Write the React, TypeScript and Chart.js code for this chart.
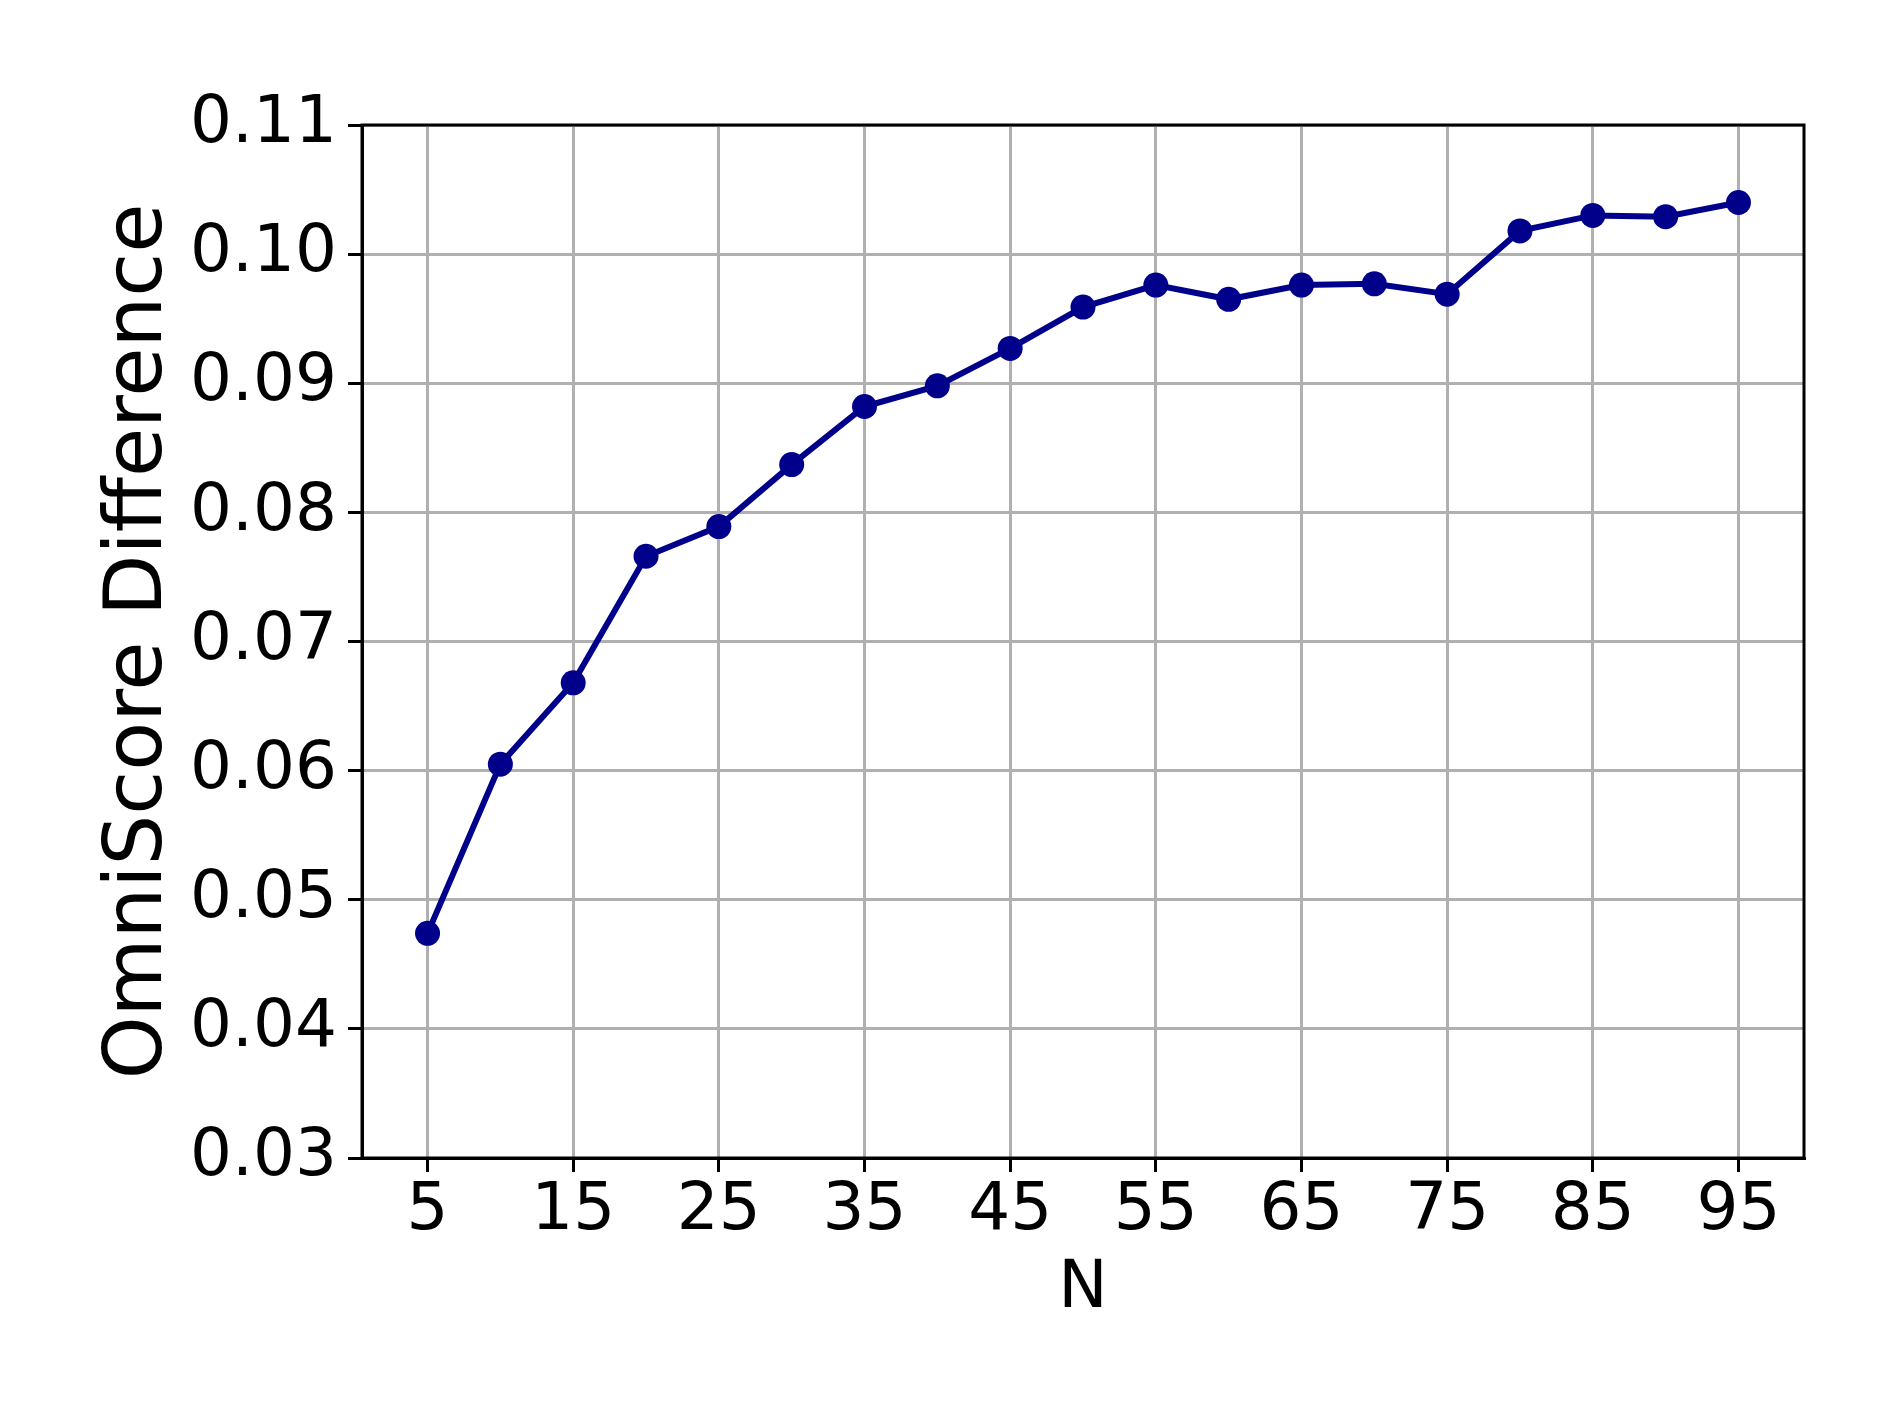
import React, { useEffect, useRef } from "react";
import { Chart, registerables } from "chart.js";

Chart.register(...registerables);

const nValues = [5, 10, 15, 20, 25, 30, 35, 40, 45, 50, 55, 60, 65, 70, 75, 80, 85, 90, 95];
const scoreDiff = [
  0.0474, 0.0605, 0.0668, 0.0766, 0.0789, 0.0837, 0.0882, 0.0898, 0.0927, 0.0959,
  0.0976, 0.0965, 0.0976, 0.0977, 0.0969, 0.1018, 0.1030, 0.1029, 0.1040,
];
const xTicks = [5, 15, 25, 35, 45, 55, 65, 75, 85, 95];
const yTicks = [0.03, 0.04, 0.05, 0.06, 0.07, 0.08, 0.09, 0.10, 0.11];
const xLabel = "N";
const yLabel = "OmniScore Difference";

const W = 1903;
const H = 1427;
const FONT = "'DejaVu Sans', sans-serif";

const frame = {
  id: "frame",
  afterDraw(chart: any) {
    const { ctx, chartArea } = chart;
    ctx.save();
    ctx.strokeStyle = "#000";
    ctx.lineWidth = 3;
    ctx.strokeRect(chartArea.left, chartArea.top, chartArea.right - chartArea.left, chartArea.bottom - chartArea.top);
    ctx.restore();
  },
};

export default function App() {
  const ref = useRef<HTMLCanvasElement>(null);
  useEffect(() => {
    const canvas = ref.current!;
    const chart = new Chart(canvas, {
      type: "line",
      data: {
        datasets: [
          {
            data: nValues.map((n, i) => ({ x: n, y: scoreDiff[i] })),
            borderColor: "#00008b",
            backgroundColor: "#00008b",
            borderWidth: 6,
            pointRadius: 12.5,
            pointBorderWidth: 0,
            pointBackgroundColor: "#00008b",
            tension: 0,
          },
        ],
      },
      plugins: [frame],
      options: {
        responsive: false,
        animation: false,
        events: [],
        layout: { padding: { left: 0, top: 125, right: 99, bottom: 0 } },
        plugins: { legend: { display: false }, tooltip: { enabled: false } },
        scales: {
          x: {
            type: "linear",
            min: 0.5,
            max: 99.5,
            afterBuildTicks: (s: any) => {
              s.ticks = xTicks.map((v) => ({ value: v }));
            },
            afterFit: (s: any) => {
              s.height = H - 1158;
            },
            grid: { color: "#b0b0b0", lineWidth: 3, tickColor: "#000", tickLength: 14, tickWidth: 3 },
            border: { color: "#000", width: 3 },
            ticks: {
              autoSkip: false,
              maxRotation: 0,
              color: "#000",
              padding: 7,
              font: { family: FONT, size: 66, lineHeight: 1 },
              callback: (v: any) => String(v),
            },
            title: {
              display: true,
              text: xLabel,
              color: "#000",
              font: { family: FONT, size: 66, lineHeight: 1 },
              padding: { top: 0, bottom: 104 },
            },
          },
          y: {
            type: "linear",
            min: 0.03,
            max: 0.11,
            afterBuildTicks: (s: any) => {
              s.ticks = yTicks.map((v) => ({ value: v }));
            },
            afterFit: (s: any) => {
              s.width = 362;
            },
            grid: { color: "#b0b0b0", lineWidth: 3, tickColor: "#000", tickLength: 14, tickWidth: 3 },
            border: { color: "#000", width: 3 },
            ticks: {
              autoSkip: false,
              color: "#000",
              padding: 11,
              font: { family: FONT, size: 66, lineHeight: 1 },
              callback: (v: any) => Number(v).toFixed(2),
            },
            title: {
              display: true,
              text: yLabel,
              color: "#000",
              font: { family: FONT, size: 80, lineHeight: 1 },
              padding: { top: 100, bottom: 0 },
            },
          },
        },
      },
    });
    return () => chart.destroy();
  }, []);
  return (
    <div style={{ position: "absolute", left: 0, top: 0, width: W, height: H, background: "#fff" }}>
      <canvas ref={ref} width={W} height={H} style={{ display: "block", width: W, height: H }} />
    </div>
  );
}
